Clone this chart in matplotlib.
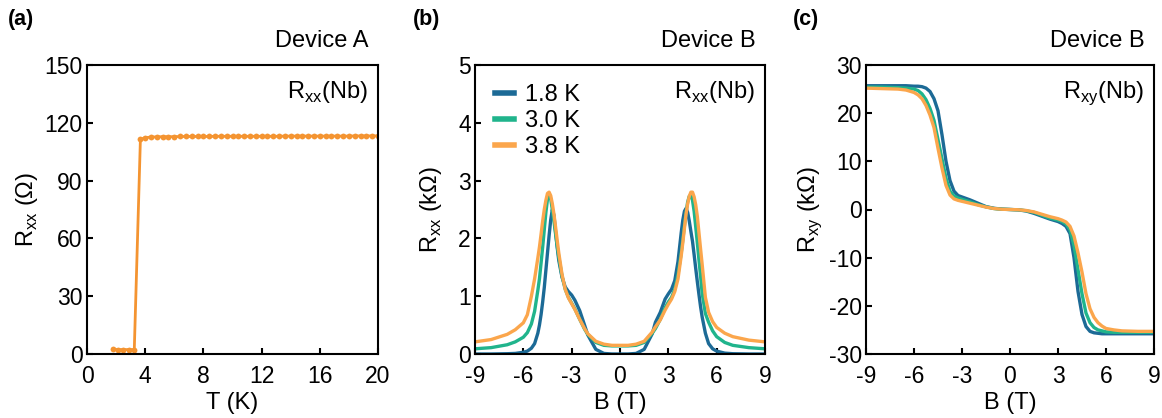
import matplotlib
matplotlib.use("Agg")
import matplotlib.pyplot as plt

plt.rcParams["font.family"] = ["Liberation Sans", "DejaVu Sans"]
plt.rcParams["axes.unicode_minus"] = False
plt.rcParams["mathtext.fontset"] = "custom"
plt.rcParams["mathtext.rm"] = "Liberation Sans"

# (a) Device A, Rxx(Nb) vs T
temp_k = [1.8, 2.15, 2.5, 2.9, 3.25, 3.67,
          4.0, 4.4, 4.8, 5.2, 5.6, 6.0, 6.4, 6.8, 7.2, 7.6, 8.0, 8.4, 8.8,
          9.2, 9.6, 10.0, 10.4, 10.8, 11.2, 11.6, 12.0, 12.4, 12.8, 13.2,
          13.6, 14.0, 14.4, 14.8, 15.2, 15.6, 16.0, 16.4, 16.8, 17.2, 17.6,
          18.0, 18.4, 18.8, 19.2, 19.6, 20.0]
rxx_a = [2.4, 2.3, 2.3, 2.3, 2.3, 111.4,
         112.3, 112.6, 112.7, 112.8, 112.8, 112.8, 112.9, 112.9, 112.9,
         112.9, 112.9, 112.9, 113.0, 113.0, 113.0, 113.0, 113.0, 113.0,
         113.0, 113.0, 113.0, 113.0, 113.0, 113.0, 113.1, 113.1, 113.1,
         113.1, 113.1, 113.1, 113.1, 113.1, 113.1, 113.1, 113.1, 113.1,
         113.2, 113.2, 113.2, 113.2, 113.2]

# (b) Device B, Rxx(Nb) vs B (kOhm)
field_b = [-9, -8, -7, -6.5, -6, -5.75, -5.5, -5.3, -5.1,
           -5.0, -4.9, -4.8, -4.7, -4.6, -4.5, -4.4, -4.3, -4.2, -4.1, -4.0,
           -3.9, -3.8, -3.6, -3.4, -3.2, -3, -2.8, -2.5, -2.2, -2, -1.5, -1,
           -0.5, 0, 0.5, 1, 1.5, 2, 2.2, 2.5, 2.8, 3, 3.2, 3.4, 3.6,
           3.8, 3.9, 4.0, 4.1, 4.2, 4.3, 4.4, 4.5, 4.6, 4.7, 4.8, 4.9, 5.0,
           5.1, 5.3, 5.5, 5.75, 6, 6.5, 7, 8, 9]
rxx_18k = [0.0, 0.0, 0.005, 0.01, 0.03, 0.05, 0.1, 0.18, 0.36,
           0.5, 0.68, 0.9, 1.15, 1.45, 1.75, 2.05, 2.32, 2.5, 2.4, 2.12,
           1.85, 1.62, 1.33, 1.16, 1.08, 1.02, 0.93, 0.75, 0.5, 0.33, 0.08,
           0.01, 0.0, 0.0, 0.0, 0.01, 0.08, 0.35, 0.55, 0.72, 0.95, 1.04,
           1.12, 1.27, 1.6,
           2.1, 2.32, 2.47, 2.52, 2.45, 2.3, 2.12, 1.95, 1.72, 1.48, 1.25,
           1.03, 0.82, 0.64, 0.36, 0.18, 0.09, 0.05, 0.015, 0.005, 0.0, 0.0]
rxx_30k = [0.09, 0.11, 0.16, 0.21, 0.29, 0.37, 0.52, 0.74, 1.1,
           1.3, 1.57, 1.85, 2.15, 2.45, 2.68, 2.76, 2.68, 2.5, 2.3, 2.08,
           1.87, 1.68, 1.35, 1.12, 0.98, 0.88, 0.78, 0.6, 0.43, 0.34, 0.2,
           0.15, 0.14, 0.14, 0.14, 0.15, 0.2, 0.36, 0.44, 0.6, 0.8, 0.9,
           0.98, 1.12, 1.38,
           1.75, 1.98, 2.22, 2.45, 2.63, 2.73, 2.75, 2.66, 2.47, 2.2, 1.92,
           1.63, 1.35, 1.05, 0.7, 0.55, 0.4, 0.3, 0.2, 0.15, 0.11, 0.09]
rxx_38k = [0.21, 0.25, 0.34, 0.42, 0.54, 0.68, 1.0, 1.3, 1.66,
           1.85, 2.07, 2.3, 2.5, 2.66, 2.78, 2.8, 2.74, 2.6, 2.42, 2.2,
           1.97, 1.75, 1.38, 1.12, 0.97, 0.87, 0.77, 0.6, 0.44, 0.35, 0.22,
           0.17, 0.15, 0.15, 0.15, 0.17, 0.22, 0.38, 0.47, 0.59, 0.76, 0.86,
           0.95, 1.08, 1.3,
           1.7, 1.93, 2.18, 2.42, 2.6, 2.73, 2.8, 2.8, 2.72, 2.58, 2.38,
           2.1, 1.82, 1.55, 0.98, 0.72, 0.56, 0.46, 0.36, 0.3, 0.24, 0.21]

# (c) Device B, Rxy(Nb) vs B (kOhm)
field_c = [-9, -8, -7, -6.5, -6, -5.75, -5.5, -5.25, -5, -4.75, -4.5, -4.25,
           -4, -3.75, -3.5, -3.25, -3, -2.5, -2, -1.5, -1, -0.5, 0, 0.5, 1,
           1.5, 2, 2.5, 3, 3.25, 3.5, 3.75, 4, 4.25, 4.5, 4.75, 5, 5.25,
           5.5, 5.75, 6, 6.5, 7, 8, 9]
rxy_18k = [25.7, 25.7, 25.7, 25.7, 25.6, 25.6, 25.5, 25.2, 24.5, 23.0,
           20.5, 15.5, 10.0, 6.0, 3.8, 2.9, 2.6, 2.0, 1.3, 0.6, 0.25, 0.08,
           0.0, -0.08, -0.3, -0.8, -1.4, -2.0, -2.5, -2.9, -3.5, -5.0,
           -10.0, -17.0, -21.8, -24.3, -25.3, -25.6, -25.7, -25.8, -25.8,
           -25.8, -25.8, -25.8, -25.8]
rxy_30k = [25.4, 25.4, 25.3, 25.2, 25.0, 24.7, 24.0, 22.8, 21.0, 18.5,
           14.5, 10.5, 6.5, 3.8, 2.8, 2.4, 2.1, 1.6, 1.0, 0.55, 0.2, 0.06,
           0.0, -0.06, -0.25, -0.6, -1.2, -1.8, -2.2, -2.5, -3.0, -4.2,
           -7.5, -12.5, -17.5, -21.5, -23.5, -24.5, -25.0, -25.2, -25.4,
           -25.5, -25.5, -25.5, -25.5]
rxy_38k = [25.2, 25.1, 25.0, 24.8, 24.3, 23.8, 23.0, 21.6, 19.6, 17.0,
           12.7, 8.6, 5.0, 3.0, 2.2, 1.9, 1.7, 1.3, 0.9, 0.5, 0.2, 0.05,
           0.0, -0.05, -0.2, -0.5, -1.0, -1.5, -1.9, -2.2, -2.6, -3.5,
           -5.5, -9.0, -13.0, -17.5, -20.6, -22.4, -23.5, -24.2, -24.7,
           -25.0, -25.2, -25.3, -25.3]

temp_labels = ["1.8 K", "3.0 K", "3.8 K"]
colors = ["#1c6a96", "#20b48c", "#fba64c"]
orange_a = "#f49431"

W, H = 1162, 418
FS = 17
fig = plt.figure(figsize=(W / 100, H / 100), dpi=100)


def add_axes(left_px, right_px):
    return fig.add_axes([left_px / W, 1 - 354 / H,
                         (right_px - left_px) / W, (354 - 65) / H])


ax_a = add_axes(87, 378)
ax_b = add_axes(475, 765)
ax_c = add_axes(866, 1154)

for ax in (ax_a, ax_b, ax_c):
    for sp in ax.spines.values():
        sp.set_linewidth(1.5)
    ax.tick_params(direction="in", length=4, width=1.5, labelsize=16.5)
    ax.tick_params(axis="x", pad=8)
    ax.tick_params(axis="y", pad=3)

# panel a
ax_a.plot(temp_k, rxx_a, "-o", color=orange_a, lw=2.0, ms=4.2, mew=0)
ax_a.set_xlim(0, 20)
ax_a.set_ylim(0, 150)
ax_a.set_xticks([0, 4, 8, 12, 16, 20])
ax_a.set_yticks([0, 30, 60, 90, 120, 150])
ax_a.set_xlabel("T (K)", fontsize=FS, labelpad=3)
ax_a.set_ylabel(r"R$_\mathregular{xx}$ ($\Omega$)", fontsize=FS, labelpad=3)

# panel b
for vals, c, lab in zip([rxx_18k, rxx_30k, rxx_38k], colors, temp_labels):
    ax_b.plot(field_b, vals, color=c, lw=2.4, label=lab)
ax_b.set_xlim(-9, 9)
ax_b.set_ylim(0, 5)
ax_b.set_xticks([-9, -6, -3, 0, 3, 6, 9])
ax_b.set_yticks([0, 1, 2, 3, 4, 5])
ax_b.set_xlabel("B (T)", fontsize=FS, labelpad=3)
ax_b.set_ylabel(r"R$_\mathregular{xx}$ (k$\Omega$)", fontsize=FS, labelpad=10)
leg = ax_b.legend(loc="upper left", bbox_to_anchor=(0.069, 0.935),
                  frameon=False, fontsize=FS, handlelength=0.8,
                  handletextpad=0.45, labelspacing=0.17, borderpad=0,
                  borderaxespad=0)
for line in leg.get_lines():
    line.set_linewidth(4)

# panel c
for vals, c in zip([rxy_18k, rxy_30k, rxy_38k], colors):
    ax_c.plot(field_c, vals, color=c, lw=2.4)
ax_c.set_xlim(-9, 9)
ax_c.set_ylim(-30, 30)
ax_c.set_xticks([-9, -6, -3, 0, 3, 6, 9])
ax_c.set_yticks([-30, -20, -10, 0, 10, 20, 30])
ax_c.set_xlabel("B (T)", fontsize=FS, labelpad=3)
ax_c.set_ylabel(r"R$_\mathregular{xy}$ (k$\Omega$)", fontsize=FS, labelpad=3.5)

# annotations
inner = [r"R$_\mathregular{xx}$(Nb)", r"R$_\mathregular{xx}$(Nb)",
         r"R$_\mathregular{xy}$(Nb)"]
devices = ["Device A", "Device B", "Device B"]
for ax, txt, dev in zip((ax_a, ax_b, ax_c), inner, devices):
    ax.text(0.966, 0.886, txt, transform=ax.transAxes, ha="right",
            va="baseline", fontsize=FS)
    ax.text(0.966, 1.062, dev, transform=ax.transAxes, ha="right",
            va="baseline", fontsize=FS)

for x_px, lab in zip([8, 413, 793], ["(a)", "(b)", "(c)"]):
    fig.text(x_px / W, 1 - 19 / H, lab, ha="left", va="center",
             fontsize=15.5, fontweight="bold")

fig.savefig("out.png", dpi=100)
